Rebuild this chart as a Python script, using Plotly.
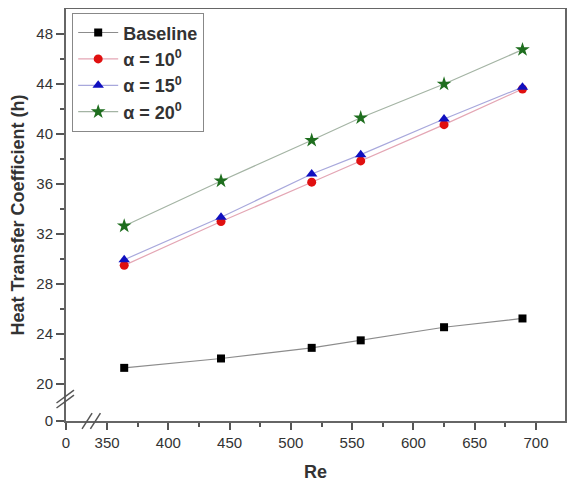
import plotly.graph_objects as go

# ---- data ----
re_vals = [364, 443, 517, 557, 625, 689]
baseline = [21.3, 22.05, 22.9, 23.5, 24.55, 25.25]
alpha10 = [29.5, 33.0, 36.15, 37.85, 40.75, 43.6]
alpha15 = [29.95, 33.35, 36.8, 38.35, 41.2, 43.75]
alpha20 = [32.65, 36.25, 39.5, 41.3, 44.0, 46.75]

x_tick_vals = [350, 400, 450, 500, 550, 600, 650, 700]
y_tick_vals = [20, 24, 28, 32, 36, 40, 44, 48]

# broken axes: the lower/left end of each axis stands for 0
X_MIN, X_MAX = 316.5, 723.7
Y_MIN, Y_MAX = 17.05, 50.0

FONT = "Liberation Sans, Arial, sans-serif"
TXT = "#333333"

fig = go.Figure()

series = [
    ("Baseline", baseline, "square", 8, "#000000", "#8c8c8c"),
    ("α = 10<sup>0</sup>", alpha10, "circle", 9, "#e01010", "#e4a6b4"),
    ("α = 15<sup>0</sup>", alpha15, "triangle-up", 10, "#1010c0", "#a8a8dc"),
    ("α = 20<sup>0</sup>", alpha20, "star", 11, "#1e6e1e", "#a4b4a4"),
]
for name, vals, sym, size, mcol, lcol in series:
    fig.add_trace(go.Scatter(
        x=re_vals, y=vals, name=name, mode="lines+markers",
        line=dict(color=lcol, width=1.2),
        marker=dict(symbol=sym, size=size, color=mcol, line=dict(width=0)),
    ))

# break marks
brk = dict(color="#555555", width=1.5)
for dx in (0, 6.8):
    fig.add_shape(type="line", xref="x", yref="paper",
                  x0=329.6 + dx, x1=337.8 + dx, y0=-0.019, y1=0.019, line=brk)
for dy in (0, 0.4):
    fig.add_shape(type="line", xref="paper", yref="y",
                  x0=-0.019, x1=0.016, y0=18.09 + dy, y1=19.12 + dy, line=brk)

# the page adds an 8px body margin, so the figure is sized to fit the window
fig.update_layout(
    width=573, height=477,
    margin=dict(l=58, r=16, t=1, b=64),
    paper_bgcolor="white", plot_bgcolor="white",
    font=dict(family=FONT, color=TXT, size=15),
    showlegend=True,
    legend=dict(
        x=0.012, y=0.99, xanchor="left", yanchor="top",
        bgcolor="white", bordercolor="#888888", borderwidth=1.2,
        font=dict(size=18, family=FONT, color=TXT, weight="bold"),
        tracegroupgap=0, itemwidth=40,
    ),
)

fig.update_xaxes(
    automargin=False,
    range=[X_MIN, X_MAX],
    tickmode="array",
    tickvals=[X_MIN] + x_tick_vals,
    ticktext=["0"] + [str(v) for v in x_tick_vals],
    ticks="outside", ticklen=7, tickwidth=1.5, tickcolor="#555555",
    minor=dict(tickmode="array", tickvals=[375, 425, 475, 525, 575, 625, 675],
               ticks="outside", ticklen=4, tickwidth=1.5, tickcolor="#555555"),
    showline=True, linecolor="#666666", linewidth=2, mirror=True,
    showgrid=False, zeroline=False,
    tickfont=dict(size=15, color=TXT),
    title=dict(text="Re", font=dict(size=18, color=TXT, weight="bold"), standoff=15),
)
fig.update_yaxes(
    automargin=False,
    range=[Y_MIN, Y_MAX],
    tickmode="array",
    tickvals=[Y_MIN] + y_tick_vals,
    ticktext=["0"] + [str(v) for v in y_tick_vals],
    ticks="outside", ticklen=8, tickwidth=1.5, tickcolor="#555555",
    minor=dict(tickmode="array", tickvals=[22, 26, 30, 34, 38, 42, 46],
               ticks="outside", ticklen=4, tickwidth=1.5, tickcolor="#555555"),
    showline=True, linecolor="#666666", linewidth=2, mirror=True,
    showgrid=False, zeroline=False,
    tickfont=dict(size=15, color=TXT),
    title=dict(text="Heat Transfer Coefficient (h)",
               font=dict(size=18, color=TXT, weight="bold"), standoff=25),
)

fig.write_html("out.html")
